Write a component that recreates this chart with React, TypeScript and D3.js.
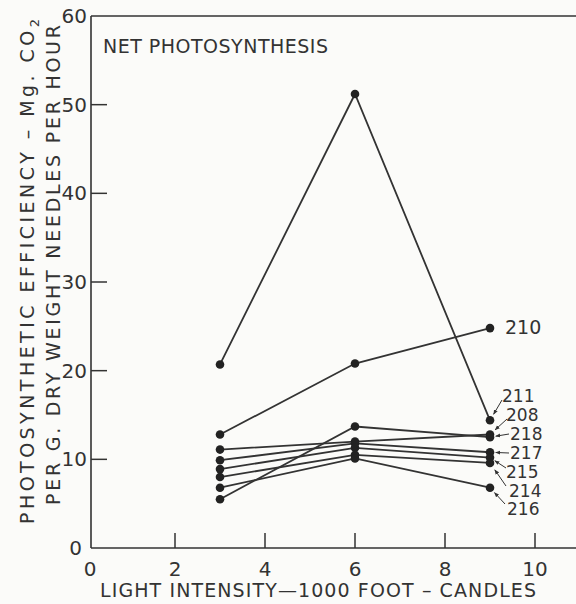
import React from 'react'
import * as d3 from 'd3'

// light intensity (1000 foot-candles) at which each sample was measured
const intensities = [3, 6, 9]

// tree numbers, in the order the labels are stacked at the right
const trees = ['210', '211', '208', '218', '217', '215', '214', '216']

// net photosynthesis, mg CO2 per g dry weight needles per hour
const t210 = [12.8, 20.8, 24.8]
const t211 = [20.7, 51.2, 14.4]
const t208 = [11.1, 12.0, 12.8]
const t218 = [5.5, 13.7, 12.5]
const t217 = [9.9, 11.8, 10.8]
const t215 = [8.9, 11.3, 10.2]
const t214 = [8.0, 10.5, 9.6]
const t216 = [6.8, 10.1, 6.8]

const xTicks = [0, 2, 4, 6, 8, 10]
const yTicks = [0, 10, 20, 30, 40, 50, 60]

const W = 576
const H = 604
const ink = '#333'
const font = '"DejaVu Sans", sans-serif'

export default function App() {
  const x = d3.scaleLinear().domain([0, 10]).range([85, 535])
  const y = d3.scaleLinear().domain([0, 60]).range([548, 16])
  const axisX = 91

  const series = [t210, t211, t208, t218, t217, t215, t214, t216]
  const line = d3.line<number>()
    .x((d, i) => x(intensities[i]))
    .y(d => y(d))

  // label placement and where each leader starts
  const labelPos: Record<string, { lx: number; ly: number; arrow: boolean; ax: number; ay: number }> = {
    '210': { lx: 505, ly: 334, arrow: false, ax: 0, ay: 0 },
    '211': { lx: 502, ly: 402, arrow: true, ax: 502, ay: 400 },
    '208': { lx: 506, ly: 421, arrow: true, ax: 507, ay: 419 },
    '218': { lx: 510, ly: 440, arrow: true, ax: 509, ay: 434 },
    '217': { lx: 510, ly: 459, arrow: true, ax: 509, ay: 453 },
    '215': { lx: 506, ly: 478, arrow: true, ax: 506, ay: 468 },
    '214': { lx: 509, ly: 497, arrow: true, ax: 506, ay: 486 },
    '216': { lx: 507, ly: 515, arrow: true, ax: 505, ay: 504 },
  }
  const lastIdx = intensities.length - 1

  return (
    <svg width={W} height={H} style={{ position: 'absolute', left: 0, top: 0, display: 'block' }}
      fontFamily={font}>
      <defs>
        <marker id="ah" viewBox="0 0 10 10" refX="9" refY="5" markerWidth="5" markerHeight="5" orient="auto">
          <path d="M0,1 L10,5 L0,9 z" fill={ink} />
        </marker>
      </defs>
      <rect width={W} height={H} fill="#fbfbf9" />

      {/* frame */}
      <line x1={axisX} x2={axisX} y1={y(60)} y2={y(0)} stroke={ink} strokeWidth={1.6} />
      <line x1={axisX} x2={W} y1={y(0)} y2={y(0)} stroke={ink} strokeWidth={1.6} />
      <line x1={axisX} x2={W} y1={y(60)} y2={y(60)} stroke={ink} strokeWidth={1.6} />

      {/* y ticks */}
      {yTicks.map(t => (
        <g key={'y' + t}>
          {t > 0 && t < 60 && <line x1={axisX} x2={axisX + 16} y1={y(t)} y2={y(t)} stroke={ink} strokeWidth={1.5} />}
          <text x={t === 0 ? 82 : 87} y={y(t) + 7} textAnchor="end" fontSize={20} fill={ink}>{t}</text>
        </g>
      ))}

      {/* x ticks */}
      {xTicks.map(t => (
        <g key={'x' + t}>
          {t > 0 && <line x1={x(t)} x2={x(t)} y1={y(0)} y2={y(0) - 15} stroke={ink} strokeWidth={1.5} />}
          <text x={t === 0 ? 90 : x(t)} y={576} textAnchor="middle" fontSize={20} fill={ink}>{t}</text>
        </g>
      ))}

      {/* axis titles */}
      <text x={100} y={597} fontSize={19} fill={ink} textLength={436} lengthAdjust="spacing">
        LIGHT  INTENSITY—1000  FOOT – CANDLES
      </text>
      <text transform="translate(34,524) rotate(-90)" fontSize={19} fill={ink} textLength={505} lengthAdjust="spacing">
        PHOTOSYNTHETIC  EFFICIENCY – Mg. CO<tspan fontSize={13} dy={5}>2</tspan>
      </text>
      <text transform="translate(60,505) rotate(-90)" fontSize={19} fill={ink} textLength={480} lengthAdjust="spacing">
        PER  G.  DRY  WEIGHT  NEEDLES  PER  HOUR
      </text>

      <text x={103} y={53} fontSize={19} fill={ink} textLength={225} lengthAdjust="spacing">NET  PHOTOSYNTHESIS</text>

      {/* series */}
      {series.map((s, k) => (
        <g key={trees[k]}>
          <path d={line(s) || ''} fill="none" stroke={ink} strokeWidth={1.8} />
          {s.map((v, i) => (
            <circle key={i} cx={x(intensities[i])} cy={y(v)} r={4.3} fill="#222" />
          ))}
        </g>
      ))}

      {/* tree labels with leaders */}
      {trees.map((t, k) => {
        const p = labelPos[t]
        const dx = x(intensities[lastIdx])
        const dy = y(series[k][lastIdx])
        return (
          <g key={'l' + t}>
            {p.arrow && (
              <line x1={p.ax} y1={p.ay} x2={dx + (p.ax - dx) * 0.3} y2={dy + (p.ay - dy) * 0.3}
                stroke={ink} strokeWidth={1} markerEnd="url(#ah)" />
            )}
            <text x={p.lx} y={p.ly} fontSize={t === '210' ? 19 : 17} fill={ink}>{t}</text>
          </g>
        )
      })}
    </svg>
  )
}
